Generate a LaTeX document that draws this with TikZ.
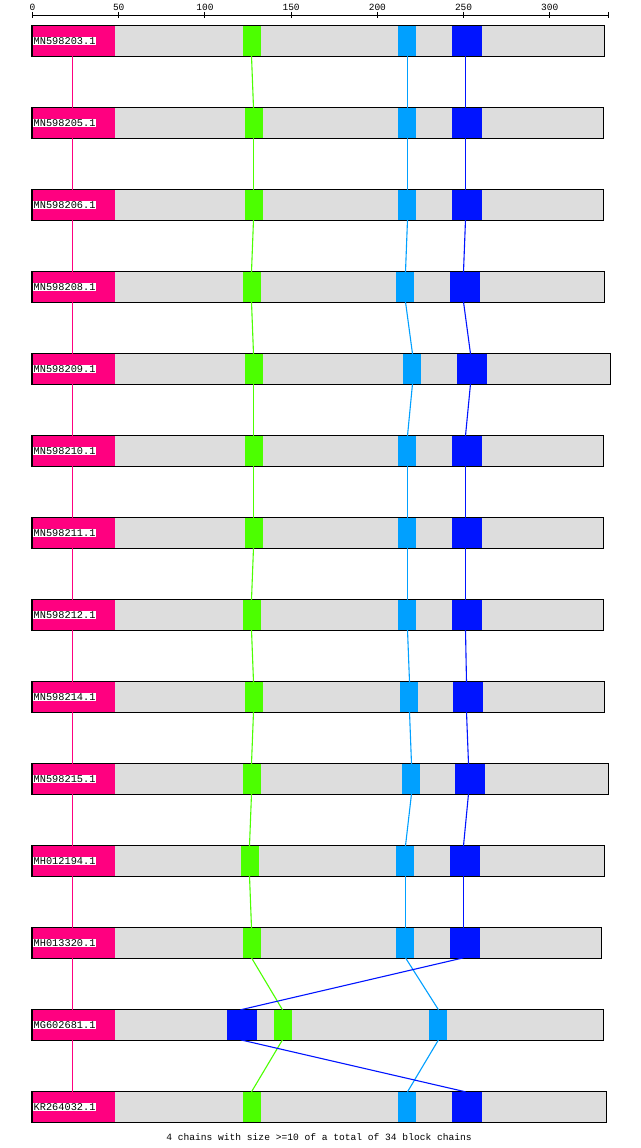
\documentclass[tikz,border=0pt]{standalone}
\usepackage{fontspec}
\setmonofont{Liberation Mono}
\definecolor{segred}{HTML}{FF0080}
\definecolor{seggreen}{HTML}{4CFF00}
\definecolor{seglblue}{HTML}{00A0FF}
\definecolor{segblue}{HTML}{0014FF}
\definecolor{bargray}{HTML}{DDDDDD}
\tikzset{
  bar/.style={fill=bargray, anchor=north west, inner sep=0pt, outer sep=0pt, minimum height=31pt},
  barline/.style={draw=black, line width=1.1pt},
  blk/.style={anchor=north west, inner sep=0pt, outer sep=0pt, minimum height=30pt},
  redblk/.style={blk, fill=segred, minimum width=82.5pt},
  grnblk/.style={blk, fill=seggreen, minimum width=18pt},
  lblblk/.style={blk, fill=seglblue, minimum width=18pt},
  blublk/.style={blk, fill=segblue, minimum width=30pt},
  lbl/.style={fill=white, inner sep=0.5pt, anchor=west, font=\ttfamily\fontsize{10.3}{10.3}\selectfont},
  ticklbl/.style={inner sep=0pt, font=\ttfamily\fontsize{9.5}{9.5}\selectfont},
  foot/.style={inner sep=0pt, font=\ttfamily\fontsize{9.6}{9.6}\selectfont},
  con/.style={line width=1.1pt},
  redcon/.style={con, draw=segred},
  grncon/.style={con, draw=seggreen},
  lblcon/.style={con, draw=seglblue},
  blucon/.style={con, draw=segblue},
}
\newcommand\seqrow[7]{%
  \node[bar, minimum width={#3-32}] (bar#1) at (32,#2) {};
  \node[redblk] (r#1) at (32.5,#2+0.5) {};
  \node[grnblk] (g#1) at (#4,#2+0.5) {};
  \node[lblblk] (l#1) at (#5,#2+0.5) {};
  \node[blublk] (b#1) at (#6,#2+0.5) {};
  \draw[barline] (bar#1.north west) rectangle (bar#1.south east);
  \node[lbl] (t#1) at (33,#2+15.7) {#7};
}
\begin{document}
\begin{tikzpicture}[x=1pt,y=-1pt]
\useasboundingbox[fill=white] (0,0) rectangle (640,1148);
% ruler
\coordinate (rs) at (32,15.3);
\coordinate (re) at (608.3,15.3);
\draw[line width=1pt] (rs) -- (re);
\foreach \v in {0,50,...,300}{
  \draw[line width=1pt] ({32.5+1.7243*\v},12) -- ({32.5+1.7243*\v},18.5);
  \node[ticklbl] (tk\v) at ({32.5+1.7243*\v},7.5) {\v};
}
\draw[line width=1pt] (608.5,12) -- (608.5,18.5);
% rows
\seqrow{1}{25.3}{604.3}{243}{398}{452}{MN598203.1}
\seqrow{2}{107.3}{603.7}{245}{398}{452}{MN598205.1}
\seqrow{3}{189.3}{603.7}{245}{398}{452}{MN598206.1}
\seqrow{4}{271.3}{604.7}{243}{396}{450}{MN598208.1}
\seqrow{5}{353.3}{610.7}{245}{403}{457}{MN598209.1}
\seqrow{6}{435.3}{603.7}{245}{398}{452}{MN598210.1}
\seqrow{7}{517.3}{603.7}{245}{398}{452}{MN598211.1}
\seqrow{8}{599.3}{603.7}{243}{398}{452}{MN598212.1}
\seqrow{9}{681.3}{604.7}{245}{400}{453}{MN598214.1}
\seqrow{10}{763.3}{608.7}{243}{402}{455}{MN598215.1}
\seqrow{11}{845.3}{604.7}{241}{396}{450}{MH012194.1}
\seqrow{12}{927.3}{601.7}{243}{396}{450}{MH013320.1}
\seqrow{13}{1009.3}{603.7}{274}{429}{227}{MG602681.1}
\seqrow{14}{1091.3}{606.3}{243}{398}{452}{KR264032.1}
% connectors
\foreach \i [evaluate=\i as \j using int(\i+1)] in {1,...,13}{
  \draw[redcon] ([xshift=-1pt]r\i.south) -- ([xshift=-1pt]r\j.north);
  \draw[grncon] ([xshift=-0.5pt]g\i.south) -- ([xshift=-0.5pt]g\j.north);
  \draw[lblcon] ([xshift=0.5pt]l\i.south) -- ([xshift=0.5pt]l\j.north);
  \draw[blucon] ([xshift=-1.5pt]b\i.south) -- ([xshift=-1.5pt]b\j.north);
}
\node[foot] (footer) at (319,1136.7) {4 chains with size >=10 of a total of 34 block chains};
\end{tikzpicture}
\end{document}
